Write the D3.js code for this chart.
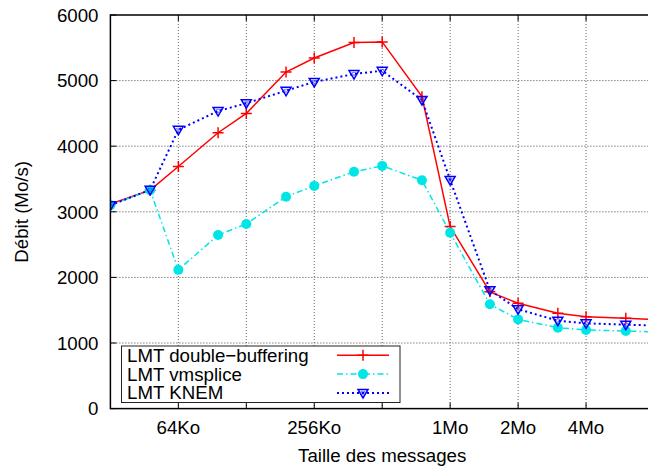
<!DOCTYPE html>
<html>
<head>
<meta charset="utf-8">
<script src="https://cdn.jsdelivr.net/npm/d3@7"></script>
<style>
  html, body { margin: 0; padding: 0; background: #fff; }
  svg { display: block; }
  text { font-family: "Liberation Sans", Arial, Helvetica, sans-serif; fill: #000; }
</style>
</head>
<body>
<svg id="chart" width="648" height="468"></svg>
<script>
// Message sizes in Ko
const sizesKo = [32, 48, 64, 96, 128, 192, 256, 384, 512, 768, 1024, 1536, 2048, 3072, 4096, 6144, 8192];
const doubleBuffering = [3120, 3330, 3690, 4205, 4500, 5130, 5345, 5580, 5590, 4755, 2775, 1780, 1605, 1452, 1401, 1376, 1360];
const vmsplice        = [3100, 3330, 2115, 2645, 2815, 3230, 3395, 3610, 3700, 3480, 2680, 1590, 1360, 1233, 1198, 1183, 1170];
const knem            = [3100, 3335, 4250, 4535, 4655, 4845, 4980, 5100, 5150, 4705, 3485, 1805, 1515, 1340, 1300, 1279, 1268];
const seriesNames = ["LMT double\u2212buffering", "LMT vmsplice", "LMT KNEM"];
const gridTicksKo = [64, 128, 256, 512, 1024, 2048, 4096];
const tickLabels = {64: "64Ko", 256: "256Ko", 1024: "1Mo", 2048: "2Mo", 4096: "4Mo"};
const yTicks = [0, 1000, 2000, 3000, 4000, 5000, 6000];
const xTitle = "Taille des messages";
const yTitle = "D\u00e9bit (Mo/s)";

(function () {
const svg = d3.select("#chart");
const pL = 110.4, pR = 654, pT = 15, pB = 408.6;
const fs = "18.7px";

const x = d3.scaleLog().base(2).domain([32, 8192]).range([pL, pR]);
const y = d3.scaleLinear().domain([0, 6000]).range([pB, pT]);

const defs = svg.append("defs");
defs.append("clipPath").attr("id", "plotclip")
  .append("rect").attr("x", pL).attr("y", pT).attr("width", pR - pL).attr("height", pB - pT);

// grid
const grid = svg.append("g");
grid.selectAll("line.h").data(yTicks.filter(v => v > 0 && v < 6000)).enter().append("line")
  .attr("x1", pL).attr("x2", pR).attr("y1", d => y(d)).attr("y2", d => y(d))
  .attr("stroke", "#444").attr("stroke-width", 1).attr("stroke-dasharray", "1,2");
grid.selectAll("line.v").data(gridTicksKo).enter().append("line")
  .attr("x1", d => x(d)).attr("x2", d => x(d)).attr("y1", pT).attr("y2", pB)
  .attr("stroke", "#666").attr("stroke-width", 1).attr("stroke-dasharray", "1,2");

// ticks (inward, mirrored)
const tk = svg.append("g").attr("stroke", "#000").attr("stroke-width", 1);
gridTicksKo.forEach(d => {
  tk.append("line").attr("x1", x(d)).attr("x2", x(d)).attr("y1", pB).attr("y2", pB - 6);
  tk.append("line").attr("x1", x(d)).attr("x2", x(d)).attr("y1", pT).attr("y2", pT + 6);
});
yTicks.forEach(v => {
  tk.append("line").attr("x1", pL).attr("x2", pL + 6).attr("y1", y(v)).attr("y2", y(v));
});

// axis labels
svg.append("g").selectAll("text").data(yTicks).enter().append("text")
  .attr("x", 98.5).attr("y", d => y(d) + 6.7).attr("text-anchor", "end")
  .style("font-size", fs).text(d => d);
svg.append("g").selectAll("text").data(gridTicksKo.filter(d => tickLabels[d])).enter().append("text")
  .attr("x", d => x(d)).attr("y", 434).attr("text-anchor", "middle")
  .style("font-size", fs).text(d => tickLabels[d]);
svg.append("text").attr("x", (pL + pR) / 2).attr("y", 461.7).attr("text-anchor", "middle")
  .style("font-size", fs).text(xTitle);
svg.append("text").attr("transform", `translate(28,${(pT + pB) / 2}) rotate(-90)`)
  .attr("text-anchor", "middle").style("font-size", fs).text(yTitle);

// series
const series = [
  {name: seriesNames[0], values: doubleBuffering, color: "#ff0000", dash: null, width: 1.5, marker: "plus"},
  {name: seriesNames[1], values: vmsplice, color: "#00e5e5", dash: "6,3,1.5,3", width: 1.5, marker: "circle"},
  {name: seriesNames[2], values: knem, color: "#0000ff", dash: "2,3", width: 2, marker: "tri"}
];
const lineGen = d3.line().x((d, i) => x(sizesKo[i])).y(d => y(d));
const plot = svg.append("g").attr("clip-path", "url(#plotclip)");

function drawMarker(g, mk, color, cx, cy) {
  if (mk === "plus") {
    g.append("path").attr("d", `M${cx - 5.5},${cy}H${cx + 5.5}M${cx},${cy - 5.5}V${cy + 5.5}`)
      .attr("stroke", color).attr("stroke-width", 1.5).attr("fill", "none");
  } else if (mk === "circle") {
    g.append("circle").attr("cx", cx).attr("cy", cy).attr("r", 5).attr("fill", color);
  } else {
    g.append("path").attr("d", `M${cx - 5},${cy - 3.5}L${cx + 5},${cy - 3.5}L${cx},${cy + 5}Z`)
      .attr("stroke", color).attr("stroke-width", 1.5).attr("fill", "none");
    g.append("path").attr("d", `M${cx - 2},${cy - 1.5}L${cx + 2},${cy - 1.5}L${cx},${cy + 2}Z`)
      .attr("stroke", color).attr("stroke-width", 0.8).attr("fill", "none").attr("opacity", 0.6);
  }
}

series.forEach(s => {
  plot.append("path").datum(s.values).attr("d", lineGen)
    .attr("fill", "none").attr("stroke", s.color).attr("stroke-width", s.width)
    .attr("stroke-dasharray", s.dash);
});
series.forEach(s => {
  const g = plot.append("g");
  s.values.forEach((v, i) => drawMarker(g, s.marker, s.color, x(sizesKo[i]), y(v)));
});

// border
svg.append("rect").attr("x", pL).attr("y", pT).attr("width", pR - pL).attr("height", pB - pT)
  .attr("fill", "none").attr("stroke", "#000").attr("stroke-width", 1.5);

// legend
const lg = svg.append("g");
lg.append("rect").attr("x", 121.5).attr("y", 346).attr("width", 278.5).attr("height", 56.5)
  .attr("fill", "#fff").attr("stroke", "#222").attr("stroke-width", 1);
series.forEach((s, i) => {
  const ry = 355.3 + i * 18.8;
  lg.append("text").attr("x", 127).attr("y", ry + 6.5).style("font-size", fs).text(s.name);
  lg.append("line").attr("x1", 337).attr("x2", 389).attr("y1", ry).attr("y2", ry)
    .attr("stroke", s.color).attr("stroke-width", s.width).attr("stroke-dasharray", s.dash);
  drawMarker(lg, s.marker, s.color, 363, ry);
});
})();
</script>
</body>
</html>
